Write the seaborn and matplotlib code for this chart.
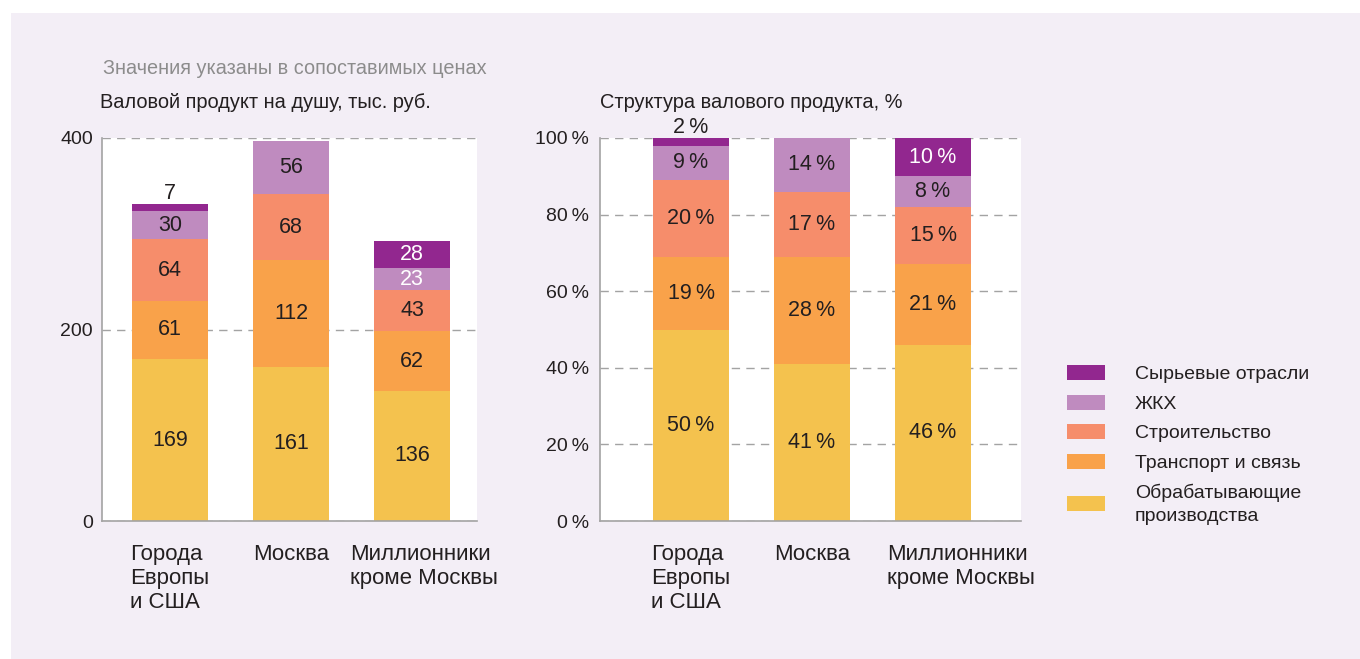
#!/usr/bin/env python3

import numpy as np
import pandas as pd
import matplotlib.pyplot as plt
import matplotlib.transforms as mtransforms
from matplotlib.patches import Rectangle, Patch
import seaborn as sns


categories = ["Города\nЕвропы\nи США", "Москва", "Миллионники\nкроме Москвы"]
sectors = ["Обрабатывающие\nпроизводства", "Транспорт и связь", "Строительство", "ЖКХ", "Сырьевые отрасли"]
colors = ["#F4C24E", "#F9A24A", "#F68D6B", "#BF8BBF", "#92278F"]

# валовой продукт на душу, тыс. руб.
gdp_manufacturing = [169, 161, 136]
gdp_transport = [61, 112, 62]
gdp_construction = [64, 68, 43]
gdp_housing = [30, 56, 23]
gdp_raw = [7, 0, 28]

# структура, %
share_manufacturing = [50, 41, 46]
share_transport = [19, 28, 21]
share_construction = [20, 17, 15]
share_housing = [9, 14, 8]
share_raw = [2, 0, 10]

gdp = np.array([gdp_manufacturing, gdp_transport, gdp_construction, gdp_housing, gdp_raw], dtype=float)
share = np.array([share_manufacturing, share_transport, share_construction, share_housing, share_raw], dtype=float)

TEXT = "#231F20"
GRID = "#A3A3A3"
PANEL = "#F3EEF6"

sns.set_style("white")
plt.rcParams["font.family"] = ["Liberation Sans", "DejaVu Sans"]

W, H = 1360, 659
fig = plt.figure(figsize=(W / 100, H / 100), dpi=100, facecolor="white")
fig.patches.append(Rectangle((11 / W, 0), 1 - 11 / W, 1 - 13 / H, transform=fig.transFigure,
                             facecolor=PANEL, edgecolor="none", zorder=-10))

ax_left = fig.add_axes([102 / W, 1 - 521 / H, 375 / W, 383 / H])
ax_right = fig.add_axes([600 / W, 1 - 521 / H, 421 / W, 383 / H])


def draw_stack(ax, values, fmt, white_cells):
    tops = values.cumsum(axis=0)
    totals = tops[-1]
    rows = []
    for i, s in enumerate(sectors):
        for j, c in enumerate(categories):
            rows.append({"category": c, "sector": i, "value": values[i, j], "top": tops[i, j]})
    df = pd.DataFrame(rows)

    # рисуем от верхнего сегмента к нижнему, чтобы получить стопку
    for i in range(len(sectors) - 1, -1, -1):
        sub = df[(df["sector"] == i) & (df["value"] > 0)]
        sns.barplot(data=sub, x="category", y="top", order=categories, color=colors[i],
                    saturation=1, width=0.63, linewidth=0, ax=ax)

    for i in range(len(sectors)):
        for j in range(len(categories)):
            v = values[i, j]
            if v <= 0:
                continue
            if v / totals[j] < 0.03:
                ax.annotate(fmt(v), (j, tops[i, j]), xytext=(0, 0), textcoords="offset points",
                            ha="center", va="bottom", fontsize=15.5, color=TEXT)
            else:
                col = "white" if (i, j) in white_cells else TEXT
                ax.text(j, tops[i, j] - v / 2, fmt(v), ha="center", va="center",
                        fontsize=15.5, color=col)


def style_axes(ax, ticks, ticklabels, xlim, ypad, shift_last):
    ax.set_facecolor("white")
    ax.set_axisbelow(True)
    ax.set_xlim(*xlim)
    ax.set_ylim(0, ticks[-1])
    ax.set_yticks(ticks)
    ax.set_yticklabels(ticklabels)
    ax.set_xlabel("")
    ax.set_ylabel("")
    ax.yaxis.grid(True, linestyle=(0, (6, 4.5)), color=GRID, linewidth=1.0)
    ax.xaxis.grid(False)
    for side in ["top", "right"]:
        ax.spines[side].set_visible(False)
    for side in ["left", "bottom"]:
        ax.spines[side].set_color(GRID)
        ax.spines[side].set_linewidth(1.2)
    ax.tick_params(axis="y", length=0, pad=ypad, labelsize=14, labelcolor=TEXT)
    ax.tick_params(axis="x", length=0, pad=16.5, labelsize=16, labelcolor=TEXT)
    labels = ax.get_xticklabels()
    for lab in labels:
        lab.set_multialignment("left")
        lab.set_verticalalignment("top")
        lab.set_linespacing(1.2)
    labels[-1].set_transform(labels[-1].get_transform()
                             + mtransforms.ScaledTranslation(shift_last / 100, 0, fig.dpi_scale_trans))


draw_stack(ax_left, gdp, lambda v: f"{v:.0f}", white_cells={(4, 2), (3, 2)})
draw_stack(ax_right, share, lambda v: f"{v:.0f}\u2009%", white_cells={(4, 2)})

style_axes(ax_left, [0, 200, 400], ["0", "200", "400"], (-0.562, 2.537), 6.5, 12)
style_axes(ax_right, [0, 20, 40, 60, 80, 100], [f"{t}\u2009%" for t in [0, 20, 40, 60, 80, 100]],
           (-0.752, 2.727), 8, 28)

fig.text(103 / W, 1 - 68 / H, "Значения указаны в сопоставимых ценах", fontsize=14.3,
         color="#8C8C8C", ha="left", va="center")
fig.text(100 / W, 1 - 102 / H, "Валовой продукт на душу, тыс. руб.", fontsize=14.4,
         color=TEXT, ha="left", va="center")
fig.text(600 / W, 1 - 102 / H, "Структура валового продукта, %", fontsize=14.4,
         color=TEXT, ha="left", va="center")

handles = [Patch(facecolor=c, edgecolor="none") for c in colors[::-1]]
leg = fig.legend(handles, sectors[::-1], loc="upper left", bbox_to_anchor=(1067 / W, 1 - 365 / H),
                 frameon=False, fontsize=14, handlelength=1.95, handleheight=0.82, handletextpad=1.55,
                 labelspacing=0.58, borderpad=0, borderaxespad=0, labelcolor=TEXT)
for t in leg.get_texts():
    t.set_linespacing(1.45)

fig.savefig("out.png", dpi=100, facecolor="white")
